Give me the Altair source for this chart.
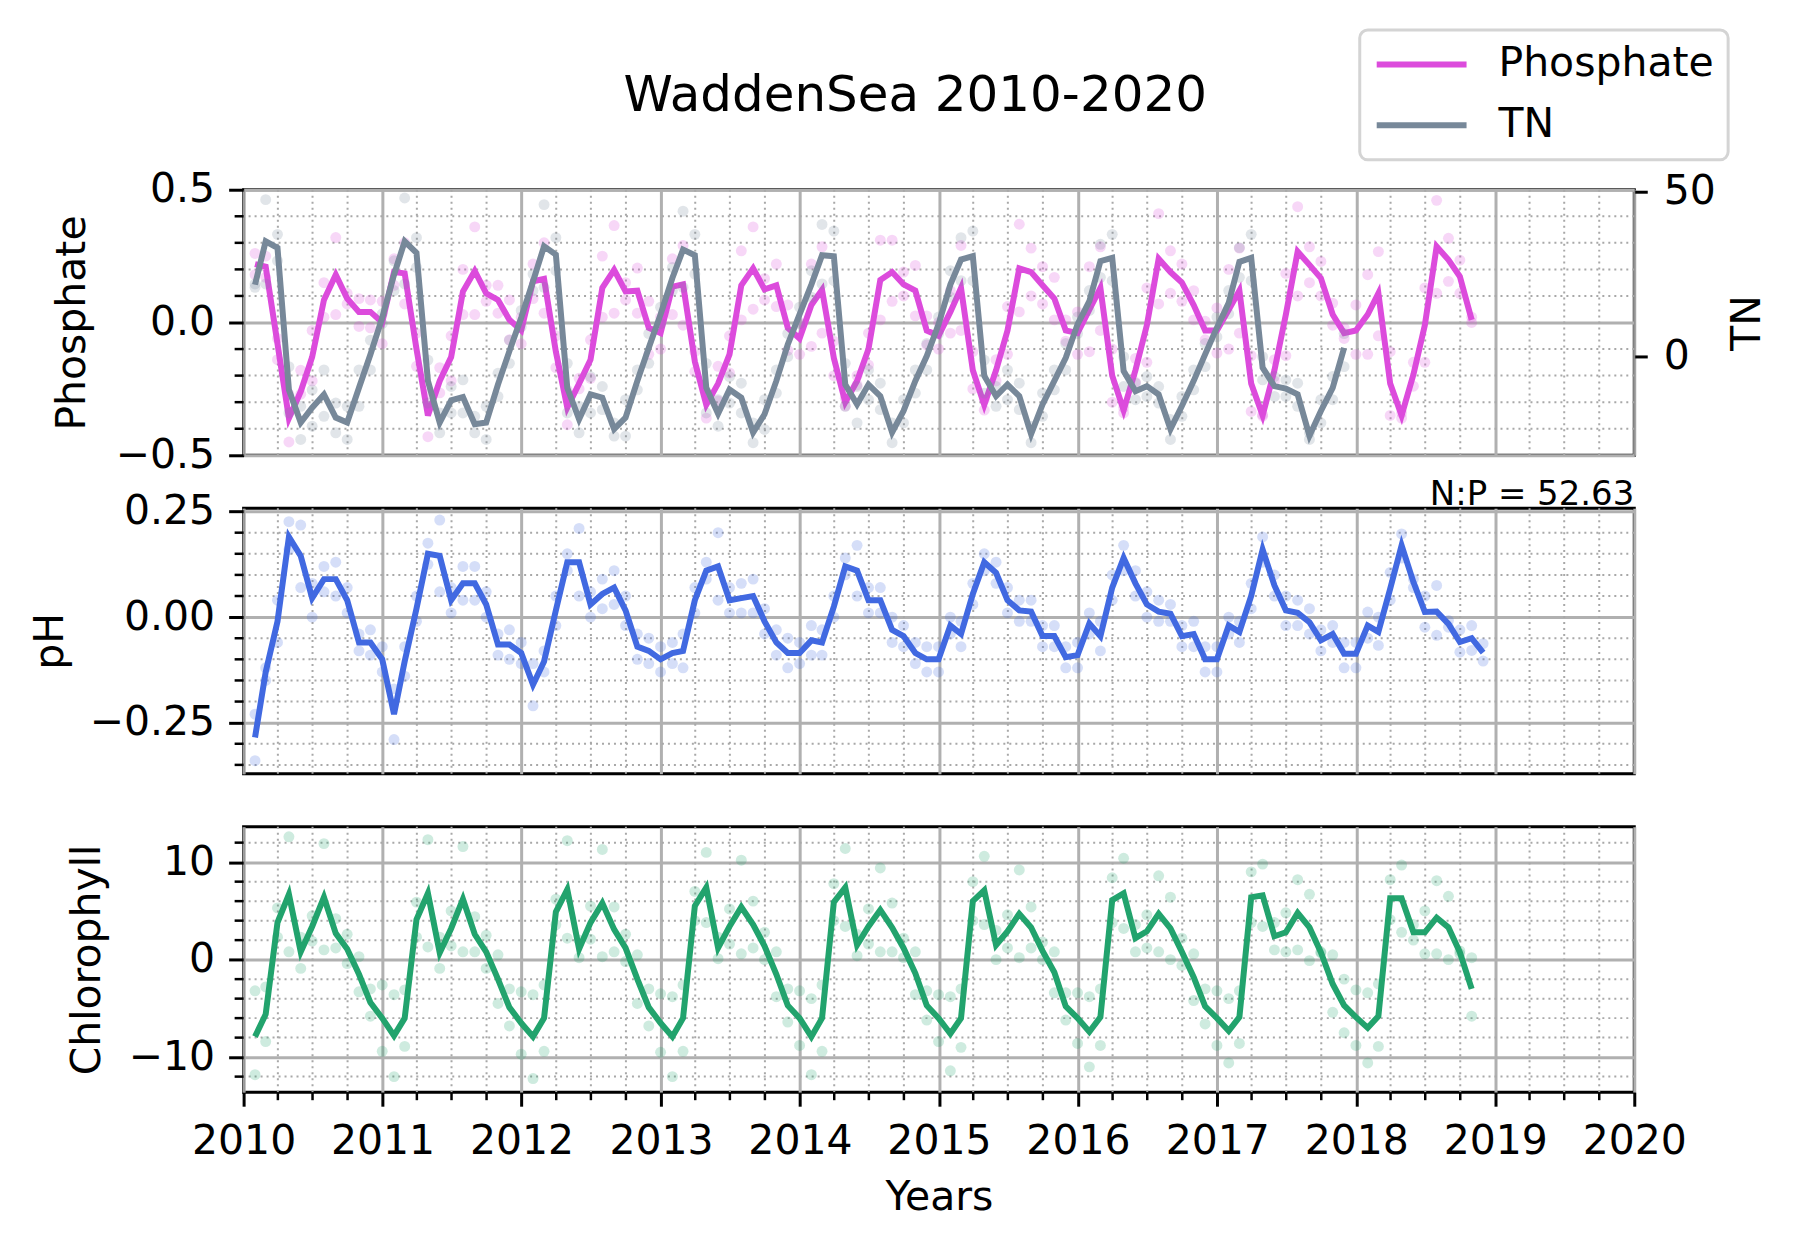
import altair as alt
import pandas as pd

# monthly means (month-end dates, starting Jan 2010) and the two raw samples per month
phosphate = [
    0.22, 0.21, -0.08, -0.36, -0.26, -0.13, 0.085, 0.18, 0.09, 0.04, 0.04, 0.0,
    0.19, 0.185, -0.10, -0.35, -0.22, -0.13, 0.117, 0.194, 0.11, 0.085, 0.01, -0.03,
    0.155, 0.164, -0.11, -0.32, -0.23, -0.14, 0.13, 0.198, 0.117, 0.12, -0.02, -0.04,
    0.135, 0.144, -0.147, -0.31, -0.23, -0.12, 0.14, 0.204, 0.125, 0.14, -0.02, -0.06,
    0.066, 0.123, -0.134, -0.30, -0.22, -0.10, 0.16, 0.19, 0.144, 0.12, -0.03, -0.05,
    0.04, 0.13, -0.18, -0.31, -0.18, -0.03, 0.204, 0.19, 0.14, 0.09, -0.03, -0.04,
    0.048, 0.13, -0.20, -0.33, -0.18, -0.01, 0.24, 0.19, 0.15, 0.066, -0.03, -0.03,
    0.048, 0.12, -0.23, -0.35, -0.18, 0.03, 0.267, 0.217, 0.167, 0.03, -0.04, -0.03,
    0.03, 0.11, -0.23, -0.35, -0.196, -0.01, 0.286, 0.236, 0.173, 0.01,
]
phos_hi = [
    0.26, 0.25, -0.06, -0.27, -0.18, -0.03, 0.15, 0.32, 0.11, 0.09, 0.085, 0.08,
    0.24, 0.30, -0.04, -0.27, -0.17, -0.05, 0.20, 0.36, 0.14, 0.14, 0.085, 0.02,
    0.22, 0.30, -0.05, -0.255, -0.21, -0.065, 0.25, 0.365, 0.15, 0.205, 0.08, 0.02,
    0.24, 0.29, -0.11, -0.26, -0.165, -0.05, 0.27, 0.36, 0.165, 0.22, 0.066, 0.0,
    0.22, 0.285, -0.07, -0.285, -0.20, -0.04, 0.31, 0.31, 0.19, 0.215, 0.025, 0.0,
    0.12, 0.29, -0.11, -0.29, -0.14, 0.06, 0.37, 0.28, 0.21, 0.17, 0.01, 0.04,
    0.21, 0.285, -0.10, -0.32, -0.135, 0.13, 0.41, 0.27, 0.22, 0.12, 0.005, 0.055,
    0.20, 0.28, -0.125, -0.347, -0.14, 0.185, 0.436, 0.285, 0.23, 0.073, -0.02, 0.066,
    0.18, 0.267, -0.11, -0.34, -0.15, 0.13, 0.46, 0.317, 0.235, 0.02,
]
phos_lo = [
    0.18, 0.17, -0.14, -0.45, -0.27, -0.22, 0.02, 0.03, 0.07, -0.015, -0.02, -0.08,
    0.14, 0.07, -0.165, -0.43, -0.265, -0.22, 0.03, 0.03, 0.08, 0.035, -0.065, -0.08,
    0.09, 0.035, -0.17, -0.385, -0.25, -0.21, 0.02, 0.035, 0.085, 0.035, -0.12, -0.10,
    0.03, -0.01, -0.185, -0.36, -0.295, -0.19, 0.01, 0.05, 0.085, 0.06, -0.105, -0.12,
    -0.09, -0.04, -0.20, -0.315, -0.235, -0.16, 0.01, 0.08, 0.10, 0.025, -0.085, -0.10,
    -0.04, -0.03, -0.25, -0.33, -0.22, -0.12, 0.04, 0.10, 0.07, 0.01, -0.07, -0.12,
    -0.11, -0.03, -0.30, -0.34, -0.225, -0.15, 0.07, 0.11, 0.08, 0.01, -0.065, -0.115,
    -0.10, -0.04, -0.335, -0.353, -0.22, -0.125, 0.10, 0.15, 0.10, -0.01, -0.06, -0.12,
    -0.12, -0.05, -0.35, -0.36, -0.24, -0.15, 0.11, 0.155, 0.11, 0.0,
]

tn = [
    21.8, 34.9, 32.9, -10.0, -19.9, -15.4, -11.4, -18.4, -19.9, -9.4, 0.7, 11.8,
    24.8, 34.9, 31.4, -7.3, -19.9, -13.2, -12.2, -20.4, -19.9, -8.4, 1.7, 11.8,
    22.8, 33.4, 30.9, -9.4, -18.9, -11.4, -12.4, -21.9, -18.4, -7.3, 2.7, 12.8,
    23.8, 32.4, 30.7, -9.4, -17.2, -9.9, -12.4, -22.9, -17.4, -7.3, 3.7, 12.8,
    21.8, 30.7, 30.4, -8.4, -14.4, -8.4, -11.9, -22.9, -16.4, -7.3, 0.2, 9.8,
    21.8, 29.4, 30.4, -5.8, -11.9, -8.4, -11.9, -23.4, -14.4, -7.3, -0.3, 9.8,
    16.8, 28.9, 29.9, -4.3, -10.4, -8.9, -11.4, -21.9, -14.9, -7.3, 0.7, 8.8,
    16.3, 28.7, 29.9, -3.3, -8.9, -9.6, -11.4, -23.9, -16.4, -9.4, 2.7,
]
tn_hi = [
    22, 47.5, 37, -3, -15, -10, -4, -14, -15, -4, 5, 13,
    29, 48, 36, -1, -17, -9, -7, -18, -15, -5, 5, 14,
    25, 46, 36, -2, -15, -6, -9, -20, -13, -4, 7, 15,
    27, 44, 37, -2, -13, -6, -8, -20, -13, -4, 7, 15,
    26, 40, 38, -2, -9, -4, -8, -20, -13, -4, 4, 12,
    26, 36, 38, -1, -9, -4, -8, -21, -11, -4, 4, 12,
    20, 34, 37, 0, -8, -6, -9, -19, -12, -4, 4, 12,
    20, 33, 37, 0, -6, -7, -8, -23, -13, -6, 7,
]
tn_lo = [
    21, 22, 29, -17, -25, -21, -18, -23, -25, -15, -4, 10,
    20, 22, 27, -14, -23, -17, -17, -23, -25, -12, -2, 9,
    20, 21, 26, -17, -23, -17, -16, -24, -24, -10, -2, 10,
    20, 21, 25, -17, -21, -14, -17, -26, -22, -11, 0, 10,
    18, 22, 23, -15, -20, -13, -16, -26, -20, -11, -4, 7,
    18, 23, 23, -11, -15, -13, -16, -26, -18, -10, -4, 7,
    14, 24, 23, -9, -13, -12, -14, -25, -18, -10, -3, 6,
    13, 24, 23, -7, -12, -12, -15, -25, -20, -13, -3,
]

ph = [
    -0.285, -0.13, -0.01, 0.19, 0.145, 0.045, 0.09, 0.09, 0.04, -0.06, -0.06, -0.10,
    -0.23, -0.105, 0.02, 0.15, 0.145, 0.04, 0.08, 0.08, 0.03, -0.065, -0.065, -0.085,
    -0.16, -0.105, 0.016, 0.13, 0.13, 0.03, 0.055, 0.07, 0.016, -0.07, -0.08, -0.10,
    -0.085, -0.08, 0.04, 0.11, 0.12, 0.04, 0.045, 0.05, -0.01, -0.06, -0.085, -0.085,
    -0.055, -0.06, 0.025, 0.12, 0.11, 0.04, 0.04, -0.03, -0.045, -0.085, -0.10, -0.10,
    -0.02, -0.04, 0.055, 0.13, 0.105, 0.04, 0.016, 0.013, -0.045, -0.045, -0.095, -0.09,
    -0.015, -0.045, 0.07, 0.14, 0.08, 0.03, 0.013, 0.008, -0.045, -0.04, -0.10, -0.10,
    -0.02, -0.035, 0.05, 0.16, 0.075, 0.016, 0.01, -0.012, -0.055, -0.04, -0.087, -0.087,
    -0.02, -0.035, 0.067, 0.17, 0.083, 0.012, 0.013, -0.016, -0.059, -0.05, -0.084,
]
ph_hi = [
    -0.23, -0.12, 0.04, 0.226, 0.218, 0.08, 0.12, 0.13, 0.07, -0.04, -0.03, -0.07,
    -0.17, -0.07, 0.05, 0.175, 0.23, 0.07, 0.12, 0.12, 0.06, -0.04, -0.03, -0.06,
    -0.11, -0.08, 0.05, 0.15, 0.21, 0.06, 0.09, 0.11, 0.05, -0.04, -0.05, -0.07,
    -0.06, -0.04, 0.07, 0.13, 0.20, 0.07, 0.08, 0.09, 0.02, -0.03, -0.05, -0.06,
    -0.02, -0.03, 0.05, 0.14, 0.17, 0.07, 0.07, 0.0, -0.02, -0.06, -0.07, -0.07,
    0.0, -0.01, 0.08, 0.15, 0.13, 0.07, 0.04, 0.04, -0.02, -0.02, -0.07, -0.06,
    0.01, -0.01, 0.10, 0.17, 0.11, 0.06, 0.04, 0.03, -0.02, -0.01, -0.07, -0.07,
    0.0, -0.01, 0.08, 0.19, 0.10, 0.05, 0.04, 0.02, -0.03, -0.02, -0.06, -0.06,
    0.012, 0.0, 0.106, 0.197, 0.09, 0.05, 0.075, -0.008, -0.03, -0.02, -0.063,
]
ph_lo = [
    -0.34, -0.15, -0.06, 0.16, 0.07, 0.0, 0.06, 0.05, 0.01, -0.08, -0.09, -0.13,
    -0.29, -0.14, -0.01, 0.125, 0.06, 0.01, 0.04, 0.04, 0.0, -0.09, -0.10, -0.11,
    -0.21, -0.13, -0.02, 0.11, 0.05, 0.0, 0.02, 0.03, -0.02, -0.10, -0.11, -0.13,
    -0.11, -0.12, 0.01, 0.09, 0.04, 0.01, 0.01, 0.01, -0.04, -0.09, -0.12, -0.11,
    -0.09, -0.09, 0.0, 0.10, 0.05, 0.01, 0.01, -0.06, -0.07, -0.11, -0.13, -0.13,
    -0.04, -0.07, 0.03, 0.11, 0.08, 0.01, -0.01, -0.01, -0.07, -0.07, -0.12, -0.12,
    -0.04, -0.08, 0.04, 0.11, 0.05, 0.0, -0.01, -0.01, -0.07, -0.07, -0.13, -0.13,
    -0.04, -0.06, 0.02, 0.13, 0.05, -0.02, -0.02, -0.04, -0.08, -0.06, -0.12, -0.12,
    -0.05, -0.067, 0.04, 0.14, 0.07, -0.024, -0.043, -0.024, -0.083, -0.079, -0.104,
]

chlorophyll = [
    -7.9, -5.6, 3.8, 6.7, 0.8, 3.4, 6.4, 2.7, 1.1, -1.5, -4.4, -6.0,
    -7.8, -6.0, 4.1, 6.8, 0.7, 3.2, 6.2, 2.6, 0.8, -2.0, -4.9, -6.5,
    -7.9, -6.0, 4.9, 7.2, 1.1, 3.8, 5.8, 3.1, 1.2, -2.0, -4.9, -6.5,
    -7.9, -6.0, 5.5, 7.4, 1.2, 3.4, 5.4, 3.6, 1.4, -1.5, -4.7, -6.0,
    -7.9, -6.0, 5.9, 7.4, 1.5, 3.4, 5.1, 3.3, 1.2, -1.4, -4.7, -6.0,
    -7.6, -6.0, 6.0, 7.1, 1.5, 2.9, 4.7, 3.3, 0.9, -1.3, -4.8, -6.0,
    -7.4, -5.9, 6.1, 6.8, 2.2, 2.9, 4.7, 3.2, 0.8, -1.8, -4.8, -6.0,
    -7.3, -5.9, 6.4, 6.6, 2.4, 2.8, 4.8, 3.3, 0.75, -2.5, -4.7, -5.9,
    -7.0, -5.8, 6.3, 6.3, 2.8, 2.8, 4.3, 3.3, 0.75, -3.0,
]
chl_hi = [
    -3.2, -2.8, 5.3, 12.6, 2.3, 4.5, 11.9, 4.2, 2.6, 0.3, -3.0, -2.6,
    -3.6, -3.1, 5.9, 12.3, 2.3, 5.0, 11.6, 4.4, 2.5, 0.5, -3.0, -3.3,
    -3.6, -2.6, 6.2, 12.2, 2.0, 5.5, 11.3, 5.4, 2.6, 0.5, -3.0, -3.5,
    -3.8, -2.6, 7.0, 11.0, 2.3, 5.2, 10.2, 6.0, 2.8, 0.8, -3.0, -3.2,
    -4.0, -2.6, 7.8, 11.4, 2.6, 5.2, 9.4, 5.8, 2.2, 0.8, -3.2, -3.6,
    -3.8, -3.0, 8.0, 10.6, 3.0, 4.6, 9.2, 5.4, 1.8, 0.8, -3.4, -3.4,
    -3.8, -3.0, 8.4, 10.4, 3.6, 4.6, 8.6, 6.4, 2.2, 0.6, -3.0, -3.2,
    -4.0, -3.2, 9.0, 9.8, 3.8, 4.8, 8.2, 6.7, 0.8, 0.5, -2.0, -3.1,
    -3.4, -2.5, 8.2, 9.7, 3.6, 5.0, 8.1, 6.5, 0.9, 0.2,
]
chl_lo = [
    -11.8, -8.4, 2.3, 0.8, -0.9, 1.9, 1.0, 1.2, -0.4, -3.3, -5.8, -9.4,
    -12.0, -8.9, 2.3, 1.3, -0.9, 1.4, 0.8, 0.8, -0.9, -4.5, -6.8, -9.7,
    -12.2, -9.4, 3.6, 2.2, 0.2, 2.1, 0.3, 0.8, -0.2, -4.5, -6.8, -9.5,
    -12.0, -9.4, 4.0, 3.8, 0.1, 1.6, 0.6, 1.2, 0.0, -3.8, -6.4, -8.8,
    -11.8, -9.4, 4.0, 3.4, 0.4, 1.6, 0.8, 0.8, 0.2, -3.6, -6.2, -8.4,
    -11.4, -9.0, 4.0, 3.6, 0.0, 1.2, 0.2, 1.2, 0.0, -3.4, -6.2, -8.6,
    -11.0, -8.8, 3.8, 3.2, 0.8, 1.2, 0.8, 0.0, -0.6, -4.2, -6.6, -8.8,
    -10.6, -8.6, 3.8, 3.4, 1.0, 0.8, 1.0, -0.1, 0.7, -5.4, -7.5, -8.8,
    -10.6, -8.9, 4.1, 2.8, 2.0, 0.6, 0.6, 0.0, 0.6, -5.8,
]

# axis ticks
years = list(range(2010, 2021))
phos_minor = [-0.4, -0.3, -0.2, -0.1, 0.1, 0.2, 0.3, 0.4]
ph_minor = [-0.35, -0.3, -0.2, -0.15, -0.1, -0.05, 0.05, 0.1, 0.15, 0.2]
chl_minor = [-12, -8, -6, -4, -2, 2, 4, 6, 8, 12]

PHOS_C = "#dc4bdc"
TN_C = "#778899"
PH_C = "#4169e1"
CHL_C = "#22a36d"
GRID = "#b0b0b0"
MINOR = "#a8a8a8"
FONT = "DejaVu Sans"
W, H = 1393, 266


def month_ends(n):
    return pd.date_range("2010-02-01", periods=n, freq="MS") - pd.Timedelta(days=1)


def line_df(vals, name):
    return pd.DataFrame({"date": month_ends(len(vals)), "value": vals, "series": name})


def dots_df(hi, lo):
    d = list(month_ends(len(hi)))
    return pd.DataFrame({"date": d + d, "value": hi + lo})


quarters = pd.DataFrame({"date": pd.to_datetime(
    [f"{y}-{m:02d}-01" for y in range(2010, 2020) for m in (4, 7, 10)])})
year_vals = [alt.DateTime(year=y, month=1, date=1) for y in years]
x_scale = alt.Scale(domain=[year_vals[0], year_vals[-1]])

x_plain = alt.X("date:T", scale=x_scale, axis=alt.Axis(
    values=year_vals, grid=True, labels=False, ticks=False, domain=False, title=None))
x_bottom = alt.X("date:T", scale=x_scale, axis=alt.Axis(
    values=year_vals, format="%Y", grid=True, ticks=True, tickSize=14, domain=False,
    labelFlush=False, labelOverlap=False, labelPadding=15, title="Years", titlePadding=16))


def y_left(domain, values, fmt, title, title_pad):
    return alt.Y("value:Q", scale=alt.Scale(domain=domain, nice=False, zero=False),
                 axis=alt.Axis(values=values, format=fmt, title=title, grid=True,
                               tickSize=15, labelPadding=14, titlePadding=title_pad))


def frame_layers(xe, ye, minor_vals, bottom_ticks=False):
    minor = pd.DataFrame({"value": minor_vals})
    layers = [
        alt.Chart(quarters).mark_rule(color=MINOR, strokeWidth=2, strokeDash=[2, 4]).encode(x=xe),
        alt.Chart(minor).mark_rule(color=MINOR, strokeWidth=2, strokeDash=[2, 4]).encode(y=ye),
        alt.Chart(minor).mark_rule(color="black", strokeWidth=2.5).encode(
            y=ye, x=alt.value(-9), x2=alt.value(0)),
    ]
    if bottom_ticks:
        layers.append(alt.Chart(quarters).mark_rule(color="black", strokeWidth=2.5).encode(
            x=xe, y=alt.value(H), y2=alt.value(H + 8)))
    return layers


legend = alt.Legend(
    title=None, orient="none", legendX=1118, legendY=-160, symbolType="stroke",
    symbolSize=8100, symbolStrokeWidth=6, clipHeight=41, labelFontSize=41, labelFont=FONT,
    labelColor="black", labelOffset=29, labelLimit=400, rowPadding=19, padding=14,
    strokeColor="#d4d4d4", cornerRadius=8, fillColor="white",
)
color = alt.Color("series:N", scale=alt.Scale(domain=["Phosphate", "TN"], range=[PHOS_C, TN_C]),
                  legend=legend)

# top panel: phosphate (left) and TN (right)
ye_p = y_left([-0.5, 0.5], [-0.5, 0, 0.5], ".1f", "Phosphate", 22)
ye_tn = alt.Y("value:Q", scale=alt.Scale(domain=[-29.8, 50.5], nice=False, zero=False),
              axis=alt.Axis(orient="right", values=[0, 50], format="d", grid=False, tickSize=13,
                            labelPadding=16, title="TN", titleAngle=270, titleBaseline="top",
                            titlePadding=12))

phos_group = alt.layer(
    *frame_layers(x_plain, ye_p, phos_minor),
    alt.Chart(dots_df(phos_hi, phos_lo)).mark_circle(size=120, opacity=0.22, color=PHOS_C)
    .encode(x=x_plain, y=ye_p),
    alt.Chart(line_df(phosphate, "Phosphate")).mark_line(strokeWidth=6)
    .encode(x=x_plain, y=ye_p, color=color),
)
tn_group = alt.layer(
    alt.Chart(dots_df(tn_hi, tn_lo)).mark_circle(size=120, opacity=0.22, color=TN_C)
    .encode(x=x_plain, y=ye_tn),
    alt.Chart(line_df(tn, "TN")).mark_line(strokeWidth=6).encode(x=x_plain, y=ye_tn, color=color),
)
top = alt.layer(phos_group, tn_group).resolve_scale(y="independent").properties(width=W, height=H)

# middle panel: pH
ye_ph = y_left([-0.371, 0.258], [-0.25, 0, 0.25], ".2f", "pH", 18)
mid = alt.layer(
    *frame_layers(x_plain, ye_ph, ph_minor),
    alt.Chart(dots_df(ph_hi, ph_lo)).mark_circle(size=120, opacity=0.22, color=PH_C)
    .encode(x=x_plain, y=ye_ph),
    alt.Chart(line_df(ph, "pH")).mark_line(strokeWidth=6, color=PH_C).encode(x=x_plain, y=ye_ph),
).properties(width=W, height=H, title=alt.TitleParams(
    "N:P = 52.63", anchor="end", frame="group", fontSize=34, fontWeight="normal", offset=-21))

# bottom panel: chlorophyll
ye_chl = y_left([-13.6, 13.64], [-10, 0, 10], "d", "Chlorophyll", 20)
bot = alt.layer(
    *frame_layers(x_bottom, ye_chl, chl_minor, bottom_ticks=True),
    alt.Chart(dots_df(chl_hi, chl_lo)).mark_circle(size=120, opacity=0.22, color=CHL_C)
    .encode(x=x_bottom, y=ye_chl),
    alt.Chart(line_df(chlorophyll, "Chlorophyll")).mark_line(strokeWidth=6, color=CHL_C)
    .encode(x=x_bottom, y=ye_chl),
).properties(width=W, height=H)

chart = (
    alt.vconcat(top, mid, bot, spacing=53, bounds="flush")
    .properties(
        title=alt.TitleParams("WaddenSea 2010-2020", fontSize=50, anchor="middle",
                              offset=-93, dx=17),
        padding={"left": 19, "top": 19, "right": 30, "bottom": 20},
    )
    .configure_view(stroke="black", strokeWidth=3)
    .configure_axis(
        labelFont=FONT, titleFont=FONT, labelFontSize=41, titleFontSize=41,
        labelColor="black", titleColor="black", titleFontWeight="normal",
        tickColor="black", tickWidth=3, gridColor=GRID, gridWidth=3,
    )
    .configure_title(font=FONT, color="black", fontWeight="normal")
    .configure_legend(strokeWidth=3)
)

chart.save("out.html", embed_options={"renderer": "svg", "actions": False})
